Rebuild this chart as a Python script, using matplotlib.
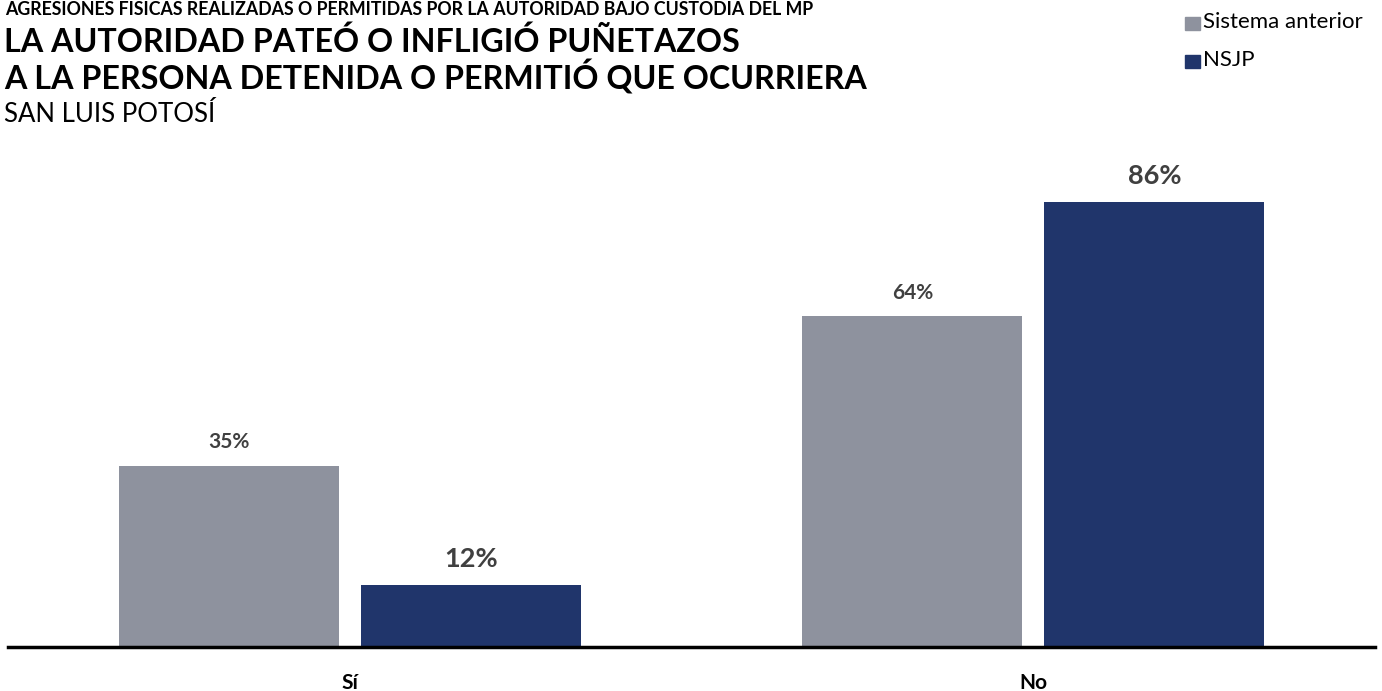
import numpy as np
import matplotlib
matplotlib.use("Agg")
from matplotlib import pyplot as plt
from matplotlib.patches import Rectangle

plt.rcParams['font.family'] = ['Lato', 'DejaVu Sans']

categories = ["Sí", "No"]
series_names = ["Sistema anterior", "NSJP"]
anterior = [35, 64]
nsjp = [12, 86]
colors = ["#8E929E", "#20356B"]

fig = plt.figure(figsize=(13.82, 6.91), dpi=100)
ax = fig.add_axes([0.0058, 0.0637, 0.9892, 0.748])

x = np.arange(len(categories))
width = 0.322
off = 0.177

b1 = ax.bar(x - off, anterior, width=width, color=colors[0])
b2 = ax.bar(x + off, nsjp, width=width, color=colors[1])

# value labels: smaller for first series, larger for second
for rect, v in zip(b1, anterior):
    ax.annotate(f"{v}%", (rect.get_x() + rect.get_width() / 2, v),
                xytext=(0, 17), textcoords="offset points", ha="center", va="center",
                fontsize=15, fontweight="bold", color="#404040")
for rect, v in zip(b2, nsjp):
    ax.annotate(f"{v}%", (rect.get_x() + rect.get_width() / 2, v),
                xytext=(0, 19), textcoords="offset points", ha="center", va="center",
                fontsize=19.5, fontweight="bold", color="#404040")

ax.set_xlim(-0.5, 1.5)
ax.set_ylim(0, 100)
ax.set_yticks([])
ax.set_xticks(x)
ax.set_xticklabels(categories, fontsize=15, fontweight="bold")
ax.tick_params(axis="x", length=0, pad=19)
for s in ["top", "right", "left"]:
    ax.spines[s].set_visible(False)
ax.spines["bottom"].set_linewidth(2.5)
ax.spines["bottom"].set_color("black")

# titles
fig.text(0.004, 0.987, "AGRESIONES FÍSICAS REALIZADAS O PERMITIDAS POR LA AUTORIDAD BAJO CUSTODIA DEL MP",
         fontsize=12.8, fontweight="bold", va="center", ha="left")
fig.text(0.003, 0.940, "LA AUTORIDAD PATEÓ O INFLIGIÓ PUÑETAZOS",
         fontsize=23.2, fontweight="bold", va="center", ha="left")
fig.text(0.003, 0.888, "A LA PERSONA DETENIDA O PERMITIÓ QUE OCURRIERA",
         fontsize=23.2, fontweight="bold", va="center", ha="left")
fig.text(0.003, 0.834, "SAN LUIS POTOSÍ", fontsize=18.5, va="center", ha="left")

# legend
for i, (name, c) in enumerate(zip(series_names, colors)):
    yc = 0.968 - i * 0.055
    fig.patches.append(Rectangle((0.8575, yc - 0.011), 0.0105, 0.019,
                                 transform=fig.transFigure, color=c))
    fig.text(0.8705, yc, name, fontsize=16, va="center", ha="left")

plt.savefig("out.png", dpi=100)
